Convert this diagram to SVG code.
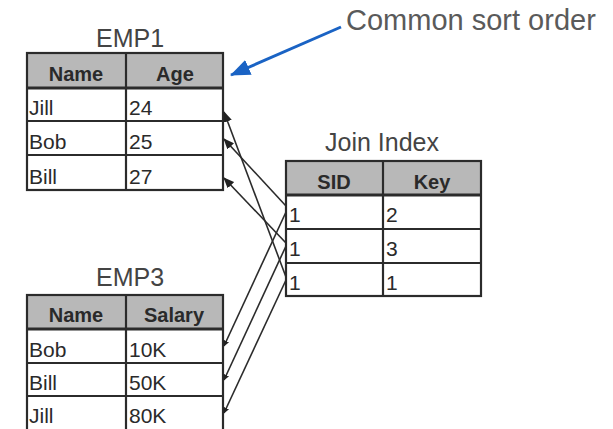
<svg xmlns="http://www.w3.org/2000/svg" width="613" height="429" viewBox="0 0 613 429">
<style>
.hdr{fill:#b8b8b8}
.cell{fill:#ffffff}
.grid{stroke:#2b2b2b;stroke-width:2.2;fill:none}
.title{font-family:"Liberation Sans",Arial,sans-serif;font-size:25px;fill:#444;text-anchor:middle}
.th{font-family:"Liberation Sans",Arial,sans-serif;font-size:20px;font-weight:bold;fill:#2a2a2a;text-anchor:middle}
.td{font-family:"Liberation Sans",Arial,sans-serif;font-size:21px;fill:#2a2a2a}
.conn{stroke:#2b2b2b;stroke-width:1.6;fill:none}
.note{font-family:"Liberation Sans",Arial,sans-serif;font-size:29px;fill:#5a5a5a}
</style>
<defs>
<marker id="ah" markerUnits="userSpaceOnUse" markerWidth="11" markerHeight="9" refX="10" refY="4.5" orient="auto">
<path d="M0,0 L11,4.5 L0,9 Z" fill="#222"/>
</marker>
<marker id="ahs" markerUnits="userSpaceOnUse" markerWidth="6" markerHeight="6" refX="5.5" refY="3" orient="auto">
<path d="M0,0 L6,3 L0,6 Z" fill="#222"/>
</marker>
<marker id="blue" markerUnits="userSpaceOnUse" markerWidth="20" markerHeight="16" refX="19" refY="8" orient="auto">
<path d="M0,0 L20,8 L0,16 Z" fill="#1a63c4"/>
</marker>
</defs>
<rect width="613" height="429" fill="#ffffff"/>

<g id="emp1">
<text class="title" x="130" y="47">EMP1</text>
<rect class="hdr" x="27" y="53" width="196" height="35"/>
<rect class="cell" x="27" y="88" width="196" height="102"/>
<rect class="grid" x="27" y="53" width="196" height="137"/>
<line class="grid" x1="27" y1="88" x2="223" y2="88" style="stroke-width:3"/>
<line class="grid" x1="27" y1="121" x2="223" y2="121"/>
<line class="grid" x1="27" y1="155" x2="223" y2="155"/>
<line class="grid" x1="126" y1="53" x2="126" y2="190"/>
<text class="th" x="76" y="81">Name</text>
<text class="th" x="175" y="81">Age</text>
<text class="td" x="29" y="115">Jill</text>
<text class="td" x="129" y="115">24</text>
<text class="td" x="29" y="149">Bob</text>
<text class="td" x="129" y="149">25</text>
<text class="td" x="29" y="184">Bill</text>
<text class="td" x="129" y="184">27</text>
</g>

<g id="join-index">
<text class="title" x="382" y="151">Join Index</text>
<rect class="hdr" x="286" y="161" width="195" height="34"/>
<rect class="cell" x="286" y="195" width="195" height="101"/>
<rect class="grid" x="286" y="161" width="195" height="135"/>
<line class="grid" x1="286" y1="195" x2="481" y2="195" style="stroke-width:3"/>
<line class="grid" x1="286" y1="229" x2="481" y2="229"/>
<line class="grid" x1="286" y1="263" x2="481" y2="263"/>
<line class="grid" x1="383" y1="161" x2="383" y2="296"/>
<text class="th" x="334" y="189">SID</text>
<text class="th" x="432" y="189">Key</text>
<text class="td" x="289" y="222">1</text>
<text class="td" x="386" y="222">2</text>
<text class="td" x="289" y="256">1</text>
<text class="td" x="386" y="256">3</text>
<text class="td" x="289" y="290">1</text>
<text class="td" x="386" y="290">1</text>
</g>

<g id="emp3">
<text class="title" x="130" y="286">EMP3</text>
<rect class="hdr" x="27" y="295" width="196" height="34"/>
<rect class="cell" x="27" y="329" width="196" height="104"/>
<rect class="grid" x="27" y="295" width="196" height="138"/>
<line class="grid" x1="27" y1="329" x2="223" y2="329" style="stroke-width:3"/>
<line class="grid" x1="27" y1="363" x2="223" y2="363"/>
<line class="grid" x1="27" y1="396" x2="223" y2="396"/>
<line class="grid" x1="126" y1="295" x2="126" y2="433"/>
<text class="th" x="76" y="322">Name</text>
<text class="th" x="174" y="322">Salary</text>
<text class="td" x="29" y="357">Bob</text>
<text class="td" x="129" y="357">10K</text>
<text class="td" x="29" y="390">Bill</text>
<text class="td" x="129" y="390">50K</text>
<text class="td" x="29" y="423">Jill</text>
<text class="td" x="129" y="423">80K</text>
</g>

<g id="note">
<text class="note" x="346" y="30">Common sort order</text>
</g>

<g id="connectors">
<line class="conn" x1="286" y1="206" x2="224" y2="139" marker-end="url(#ah)"/>
<line class="conn" x1="286" y1="243" x2="224" y2="178" marker-end="url(#ah)"/>
<line class="conn" x1="286" y1="277" x2="224" y2="112" marker-end="url(#ah)"/>
<line class="conn" x1="286" y1="212" x2="224" y2="346" marker-end="url(#ahs)"/>
<line class="conn" x1="286" y1="246" x2="224" y2="380" marker-end="url(#ahs)"/>
<line class="conn" x1="286" y1="280" x2="224" y2="413" marker-end="url(#ahs)"/>
<line x1="341" y1="27" x2="231" y2="75" stroke="#1a63c4" stroke-width="3" marker-end="url(#blue)"/>
</g>
</svg>
